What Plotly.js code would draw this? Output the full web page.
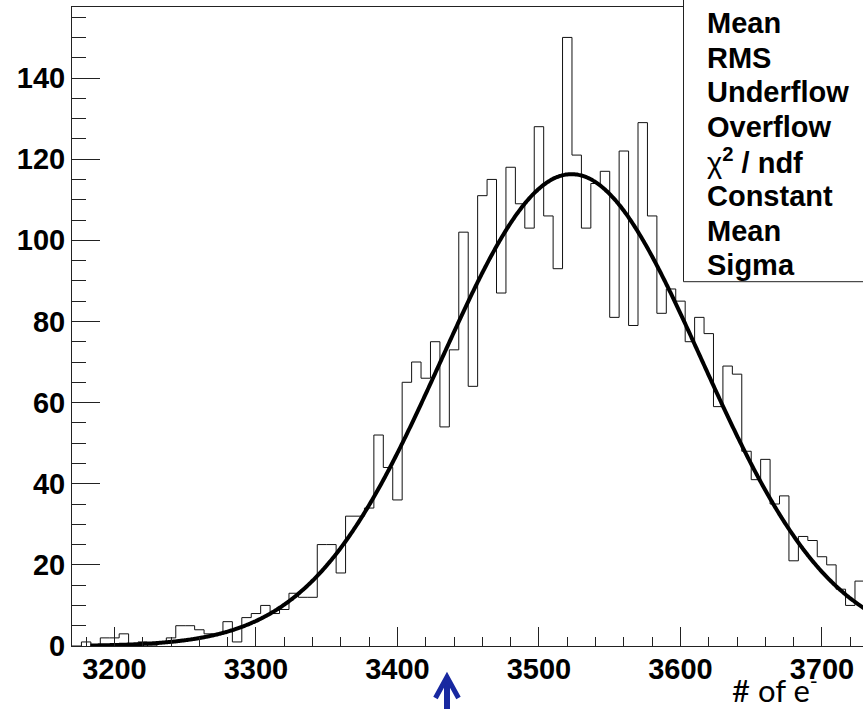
<!DOCTYPE html>
<html>
<head>
<meta charset="utf-8">
<script src="https://cdn.plot.ly/plotly-3.0.1.min.js"></script>
<style>
  html, body { margin: 0; padding: 0; background: #fff; }
  #chart { width: 863px; height: 709px; }
</style>
</head>
<body>
<div id="chart"></div>
<script>
// ---- Data ----
const binLowEdge = 3170;          // left edge of first bin (# of e-)
const binWidth = 600 / 90;        // histogram bin width
const binCounts = [
  0, 1, 0, 2, 2, 3, 0, 1, 0, 1,
  2, 5, 5, 4, 3, 3, 6, 1, 7, 8,
  10, 8, 9, 13, 12, 12, 25, 25, 18, 32,
  32, 34, 52, 44, 36, 65, 70, 66, 75, 54,
  73, 102, 64, 111, 115, 87, 118, 109, 103, 128,
  106, 93, 150, 121, 103, 114, 117, 81, 122, 79,
  129, 106, 82, 88, 85, 75, 81, 77, 59, 69,
  67, 48, 41, 46, 35, 37, 21, 27, 26, 22,
  20, 14, 10, 16
];
// Gaussian fit parameters (as listed in the stats box)
const fitConstant = 116.3;
const fitMean = 3523;
const fitSigma = 92;
const fitStart = 3183;
const fitEnd = 3770;

const xTickVals = [3200, 3300, 3400, 3500, 3600, 3700];
const yTickVals = [0, 20, 40, 60, 80, 100, 120, 140];
const statLabels = ['Mean', 'RMS', 'Underflow', 'Overflow',
  'χ<b><sup>2</sup> / ndf</b>', 'Constant', 'Mean', 'Sigma'];
const xTitle = '# of e<sup>-</sup>';
const markerValue = 3435;   // blue arrow position

// ---- Build traces ----
const stepX = [], stepY = [];
binCounts.forEach((c, i) => { stepX.push(binLowEdge + i * binWidth); stepY.push(c); });
stepX.push(binLowEdge + binCounts.length * binWidth);
stepY.push(binCounts[binCounts.length - 1]);

const fitX = [], fitY = [];
for (let x = fitStart; x <= fitEnd; x += 1) {
  fitX.push(x);
  fitY.push(fitConstant * Math.exp(-0.5 * Math.pow((x - fitMean) / fitSigma, 2)));
}

const histTrace = {
  type: 'scatter', mode: 'lines', x: stepX, y: stepY,
  line: { shape: 'hv', color: '#111', width: 1 }, hoverinfo: 'skip'
};
const fitTrace = {
  type: 'scatter', mode: 'lines', x: fitX, y: fitY,
  line: { color: '#000', width: 4, shape: 'spline' }, hoverinfo: 'skip'
};

// ---- Layout helpers (pixel -> paper) ----
const W = 863, H = 709;
const mL = 72, mR = 0, mT = 7, mB = 63;
const pw = W - mL - mR, ph = H - mT - mB;
const px = v => (v - mL) / pw;
const py = v => (H - mB - v) / ph;
const xRange = [3170, 3729];
const unitPerPx = (xRange[1] - xRange[0]) / pw;

const tickFont = { family: 'Liberation Sans, Arial, sans-serif', size: 29, color: '#000', weight: 'bold' };

const annotations = statLabels.map((t, k) => ({
  xref: 'paper', yref: 'paper', x: px(705), y: py(23 + 34.6 * k),
  xanchor: 'left', yanchor: 'middle', showarrow: false,
  text: k === 4 ? t : '<b>' + t + '</b>',
  font: { family: 'Liberation Sans, Arial, sans-serif', size: 29, color: '#000' }
}));
annotations.push({
  xref: 'paper', yref: 'paper', x: px(730), y: py(688),
  xanchor: 'left', yanchor: 'middle', showarrow: false,
  text: xTitle,
  font: { family: 'Lato, Open Sans, sans-serif', size: 31, color: '#000' }
});

// blue arrow (shapes) below the axis
const arrowColor = '#1828a0';
const headHalf = 11.5 * unitPerPx;
const arrowShapes = [
  { type: 'line', xref: 'x', yref: 'paper', layer: 'above',
    x0: markerValue, x1: markerValue, y0: py(715), y1: py(679),
    line: { color: arrowColor, width: 6 } },
  { type: 'path', xref: 'x', yref: 'paper', layer: 'above',
    path: `M ${markerValue - headHalf} ${py(698)} L ${markerValue} ${py(677)} L ${markerValue + headHalf} ${py(698)}`,
    line: { color: arrowColor, width: 5 } }
];

const layout = {
  width: W, height: H,
  margin: { l: mL, r: mR, t: mT, b: mB, pad: 0 },
  paper_bgcolor: '#fff', plot_bgcolor: '#fff',
  showlegend: false,
  xaxis: {
    range: xRange, showgrid: false, zeroline: false,
    showline: true, linecolor: '#222', linewidth: 1, mirror: true,
    ticks: 'inside', ticklen: 19, tickwidth: 1, tickcolor: '#222',
    tickvals: xTickVals, ticktext: xTickVals.map(String),
    tickfont: tickFont, ticklabelstandoff: -3,
    minor: { dtick: 20, tick0: 3200, ticks: 'inside', ticklen: 9, tickwidth: 1, tickcolor: '#222', showgrid: false }
  },
  yaxis: {
    range: [0, 157.5], showgrid: false, zeroline: false,
    showline: true, linecolor: '#222', linewidth: 1, mirror: false,
    ticks: 'inside', ticklen: 28, tickwidth: 1, tickcolor: '#222',
    tickvals: yTickVals, ticktext: yTickVals.map(String),
    tickfont: tickFont,
    minor: { dtick: 5, tick0: 0, ticks: 'inside', ticklen: 14, tickwidth: 1, tickcolor: '#222', showgrid: false }
  },
  shapes: [{
    type: 'rect', xref: 'paper', yref: 'paper', layer: 'above',
    x0: px(683.5), x1: px(880), y0: py(281.7), y1: py(-20),
    fillcolor: '#fff', line: { color: '#222', width: 1 }
  }].concat(arrowShapes),
  annotations: annotations
};

Plotly.newPlot('chart', [histTrace, fitTrace], layout, { staticPlot: true, displayModeBar: false });
</script>
</body>
</html>
